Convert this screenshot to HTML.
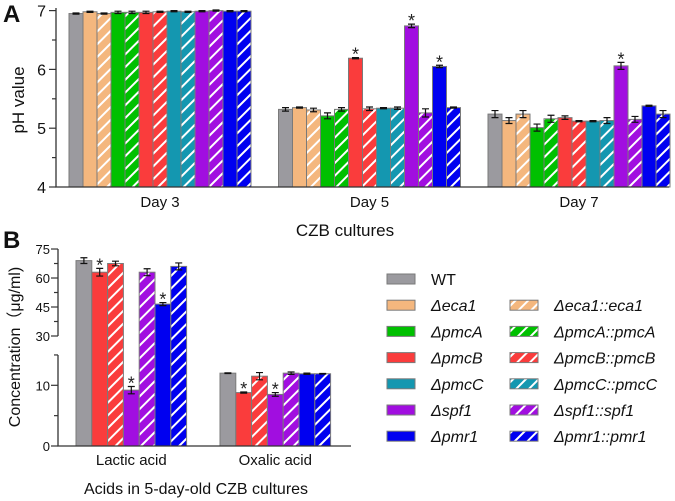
<!DOCTYPE html>
<html><head><meta charset="utf-8"><style>
body{margin:0;background:#fff}
svg{display:block;font-family:"Liberation Sans",Arial,sans-serif}
</style></head><body>
<svg id="fig" width="675" height="501" viewBox="0 0 675 501" xmlns="http://www.w3.org/2000/svg">
<defs id="defs"></defs>
<g id="gA"></g>
<g id="gB"></g>
<g id="gL"></g>
</svg>
<script>
const strains = ["WT","Δeca1","Δeca1::eca1","ΔpmcA","ΔpmcA::pmcA","ΔpmcB","ΔpmcB::pmcB","ΔpmcC","ΔpmcC::pmcC","Δspf1","Δspf1::spf1","Δpmr1","Δpmr1::pmr1"];
const days = ["Day 3","Day 5","Day 7"];
const phDay3 = [6.95,6.98,6.95,6.97,6.97,6.97,6.98,6.99,6.98,6.99,7.0,6.99,6.99];
const phDay5 = [5.32,5.35,5.31,5.21,5.32,6.19,5.33,5.34,5.34,6.74,5.26,6.05,5.35];
const phDay7 = [5.24,5.13,5.24,5.01,5.16,5.18,5.12,5.12,5.13,6.06,5.15,5.38,5.24];
const phErr3 = [0.01,0.01,0.01,0.02,0.02,0.02,0.01,0.01,0.01,0.01,0.01,0.01,0.01];
const phErr5 = [0.03,0.01,0.03,0.05,0.03,0.01,0.03,0.01,0.02,0.03,0.07,0.02,0.01];
const phErr7 = [0.06,0.05,0.06,0.06,0.06,0.03,0.01,0.01,0.05,0.06,0.05,0.01,0.06];
const phStar5 = [0,0,0,0,0,1,0,0,0,1,0,1,0];
const phStar7 = [0,0,0,0,0,0,0,0,0,1,0,0,0];
const phTicks = [4,5,6,7];
const acidCats = ["Lactic acid","Oxalic acid"];
const acidStrains = ["WT","ΔpmcB","ΔpmcB::pmcB","Δspf1","Δspf1::spf1","Δpmr1","Δpmr1::pmr1"];
const lactic = [69,63,67.5,9.2,63,46.5,66];
const lacticErr = [1.5,2,1.2,0.6,1.8,0.8,1.8];
const lacticStar = [0,1,0,1,0,1,0];
const oxalic = [12,8.8,11.5,8.5,12,11.9,11.9];
const oxalicErr = [0.05,0.1,0.6,0.3,0.2,0.1,0.05];
const oxalicStar = [0,1,0,1,0,0,0];
const upperTicks = [30,45,60,75];
const lowerTicks = [0,10];

const colors = {"WT":"#9b9a9f","eca1":"#f4b77e","pmcA":"#00c000","pmcB":"#fa3c3c","pmcC":"#1497b0","spf1":"#a10ee0","pmr1":"#0000f0"};
const NS="http://www.w3.org/2000/svg";
function mk(parent,tag,attrs,txt){const e=document.createElementNS(NS,tag);for(const k in attrs)e.setAttribute(k,attrs[k]);if(txt!==undefined)e.textContent=txt;parent.appendChild(e);return e;}
function gene(s){return s==="WT"?"WT":s.replace("Δ","").split("::")[0];}
function isComp(s){return s.indexOf("::")>=0;}
const defs=document.getElementById("defs");
for(const g in colors){
  const p=mk(defs,"pattern",{id:"h-"+g,patternUnits:"userSpaceOnUse",width:9,height:9,patternTransform:"rotate(45)"});
  mk(p,"rect",{x:0,y:0,width:9,height:9,fill:colors[g]});
  mk(p,"rect",{x:0,y:0,width:2,height:9,fill:"#fff"});
}
function fillFor(s){const g=gene(s);return isComp(s)?"url(#h-"+g+")":colors[g];}

function drawBar(parent,x,w,yTop,yBase,s,errTop,errBot,star,name){
  const r=mk(parent,"rect",{x:x,y:yTop,width:w,height:yBase-yTop,fill:fillFor(s),stroke:"#7a7a7a","stroke-width":1});
  
  
  const cx=x+w/2;
  mk(parent,"path",{d:`M${cx},${errTop}V${errBot}M${cx-3.5},${errTop}H${cx+3.5}M${cx-3.5},${errBot}H${cx+3.5}`,stroke:"#111","stroke-width":1.2,fill:"none"});
  if(star){const t=mk(parent,"text",{x:cx,y:errTop+3,"text-anchor":"middle","font-size":18,fill:"#222"},"*");
    
    }
}

// Panel A
const gA=document.getElementById("gA");
const yA=v=>187-(v-4)*58.8;
const bwA=14, gx0=[69,278.5,488];
const phData=[phDay3,phDay5,phDay7], phErrs=[phErr3,phErr5,phErr7], phStars=[phStar5.map(()=>0),phStar5,phStar7];
phData.forEach((arr,d)=>{
  arr.forEach((v,i)=>{
    const x=gx0[d]+i*bwA, e=phErrs[d][i];
    drawBar(gA,x,bwA,yA(v),187,strains[i],yA(v+e),yA(v-e),phStars[d][i],"bar-"+days[d].replace(" ","").toLowerCase()+"-"+i);
  });
  const t=mk(gA,"text",{x:gx0[d]+bwA*6.5,y:207,"text-anchor":"middle","font-size":15,fill:"#111"},days[d]);
  
  
});
mk(gA,"path",{d:"M56,8V187H669",stroke:"#333","stroke-width":1.3,fill:"none"});
for(let v=4;v<=7.001;v+=0.5){const y=yA(v);mk(gA,"line",{x1:v%1===0?49:52,x2:56,y1:y,y2:y,stroke:"#333","stroke-width":1.2});}
phTicks.forEach(v=>{const t=mk(gA,"text",{x:46,y:yA(v)+6,"text-anchor":"end","font-size":16,fill:"#111"},v);
  
  });
{const t=mk(gA,"text",{x:3,y:22,"font-size":24,"font-weight":"bold",fill:"#111"},"A");}
{const t=mk(gA,"text",{transform:"translate(24,100) rotate(-90)","text-anchor":"middle","font-size":17,fill:"#111"},"pH value");}
{const t=mk(gA,"text",{x:345,y:236,"text-anchor":"middle","font-size":17,fill:"#111"},"CZB cultures");}

// Panel B
const gB=document.getElementById("gB");
function yB(v){return v>=30?336-(v-30)*1.933:446-v*6.07;}
const bwB=15.8, bx0=[76,220];
[[lactic,lacticErr,lacticStar],[oxalic,oxalicErr,oxalicStar]].forEach(([vals,errs,stars],c)=>{
  vals.forEach((v,i)=>{
    const x=bx0[c]+i*bwB;
    drawBar(gB,x,bwB,yB(v),446,acidStrains[i],yB(v+errs[i]),yB(v-errs[i]),stars[i],"bar-"+acidCats[c].split(" ")[0].toLowerCase()+"-"+i);
  });
  const t=mk(gB,"text",{x:bx0[c]+bwB*3.5,y:465,"text-anchor":"middle","font-size":15,fill:"#111"},acidCats[c]);
  
  
});
mk(gB,"path",{d:"M58,249V336M58,355V446H351",stroke:"#333","stroke-width":1.3,fill:"none"});
[30,37.5,45,52.5,60,67.5,75].forEach(v=>{const y=yB(v);mk(gB,"line",{x1:v%15===0?51:54,x2:58,y1:y,y2:y,stroke:"#333","stroke-width":1.2});});
[0,5,10,15].forEach(v=>{const y=yB(v);mk(gB,"line",{x1:v===10||v===0?51:54,x2:58,y1:y,y2:y,stroke:"#333","stroke-width":1.2});});
upperTicks.concat(lowerTicks).forEach(v=>{const t=mk(gB,"text",{x:50,y:yB(v)+5,"text-anchor":"end","font-size":13,fill:"#111"},v);
  
  });
{const t=mk(gB,"text",{x:3,y:248,"font-size":24,"font-weight":"bold",fill:"#111"},"B");}
{const t=mk(gB,"text",{transform:"translate(20,347) rotate(-90)","text-anchor":"middle","font-size":16,fill:"#111"},"Concentration（μg/ml)");}
{const t=mk(gB,"text",{x:196,y:494,"text-anchor":"middle","font-size":16,fill:"#111"},"Acids in 5-day-old CZB cultures");}

// Legend
const gL=document.getElementById("gL");
const legRows=[["WT",null],["Δeca1","Δeca1::eca1"],["ΔpmcA","ΔpmcA::pmcA"],["ΔpmcB","ΔpmcB::pmcB"],["ΔpmcC","ΔpmcC::pmcC"],["Δspf1","Δspf1::spf1"],["Δpmr1","Δpmr1::pmr1"]];
legRows.forEach((row,r)=>{
  const y=279+r*26.2;
  row.forEach((s,c)=>{
    if(!s)return;
    const sx=c?510:387, tx=c?554:431;
    const sw=mk(gL,"rect",{x:sx,y:y-5,width:28,height:10,fill:fillFor(s),stroke:"#7a7a7a","stroke-width":1});
    
    
    const t=mk(gL,"text",{x:tx,y:y+6,"font-size":16,fill:"#111","font-style":s==="WT"?"normal":"italic"},s);
    
    
  });
});
</script>
</body></html>
